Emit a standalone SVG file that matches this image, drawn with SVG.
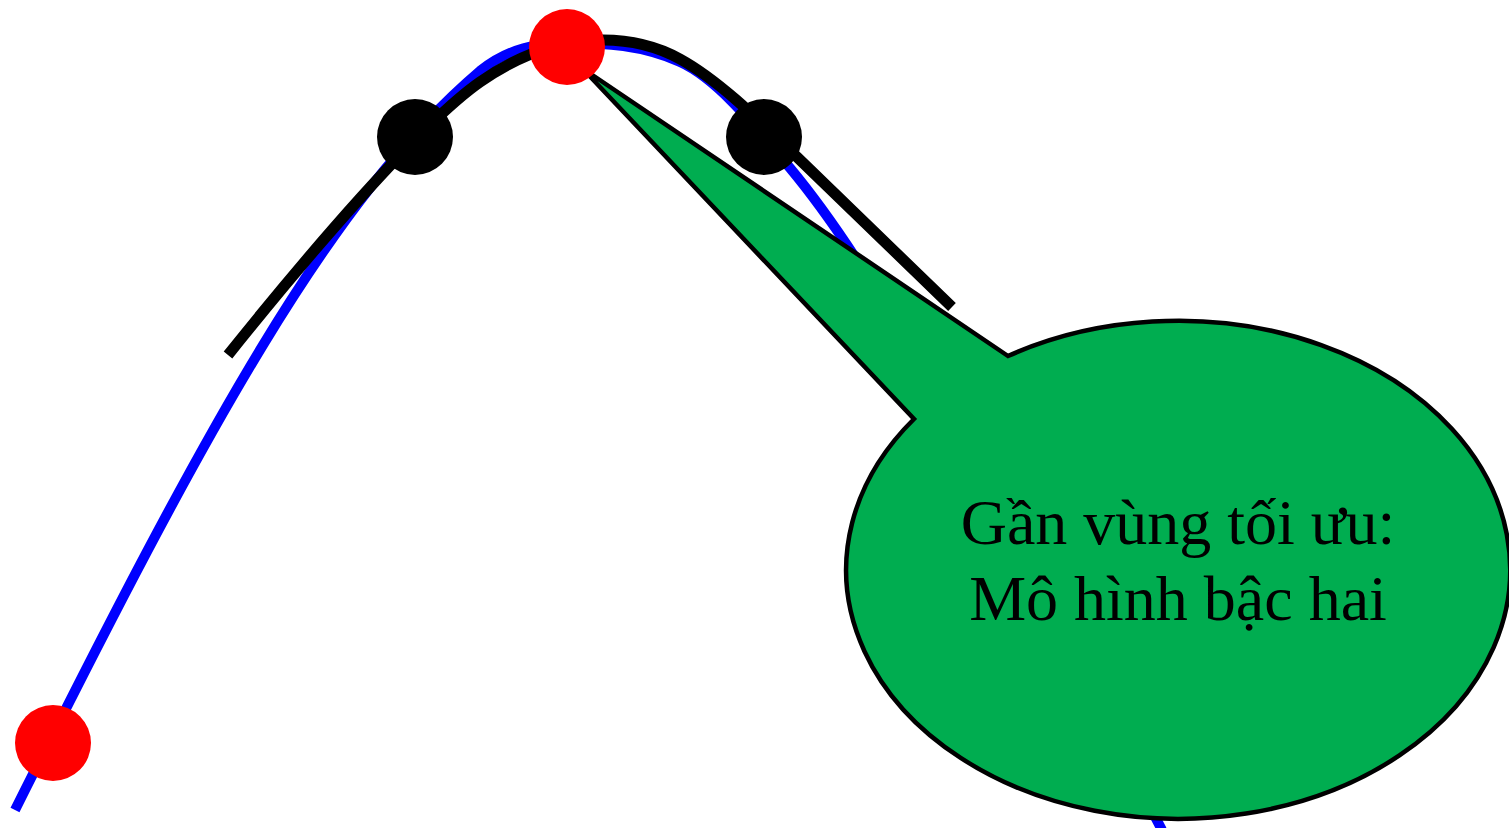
<svg xmlns="http://www.w3.org/2000/svg" width="1509" height="828" viewBox="0 0 1509 828">
  <style>
    .curve { fill: none; stroke-linecap: butt; stroke-linejoin: round; }
    .blue { stroke: #0000FF; stroke-width: 10; }
    .black { stroke: #000000; stroke-width: 11; }
    .dot-red { fill: #FF0000; }
    .dot-black { fill: #000000; }
    .callout { fill: #00AD50; stroke: #000000; stroke-width: 4.5; stroke-linejoin: miter; }
    .label { font-family: "Liberation Serif", "Times New Roman", serif; font-size: 64px; fill: #000000; text-anchor: middle; }
  </style>
  <rect width="1509" height="828" fill="#FFFFFF"/>
  <g id="connectors">
    <path id="blue-curve" class="curve blue" d="M15,810 C205,430 330,198.5 480,71 C509,47.8 538,43 567,43 C604.67,43 642.33,45.05 680,62 C716.67,78.5 753.33,124 790,168 C914,316.8 1038,594.4 1162,830"/>
    <path id="black-curve" class="curve black" d="M228,355 C308,255 420,124 480,82 C521,53.3 562,40 603,40 C628.67,40 654.33,44.9 680,59 C719,80.45 758,119.2 797,157 L952,307"/>
  </g>
  <g id="callout">
    <path class="callout" d="M1008,356 L582,68 L914,419 A332,249 0 1 0 1008,356 Z"/>
    <text class="label" x="1178" y="544">Gần vùng tối ưu:</text>
    <text class="label" x="1178" y="620">Mô hình bậc hai</text>
  </g>
  <g id="node-red-bottom"><circle class="dot-red" cx="53" cy="743" r="38"/></g>
  <g id="node-red-top"><circle class="dot-red" cx="567" cy="47" r="38"/></g>
  <g id="node-black-left"><circle class="dot-black" cx="415" cy="137" r="38"/></g>
  <g id="node-black-right"><circle class="dot-black" cx="764" cy="137" r="38"/></g>
</svg>
